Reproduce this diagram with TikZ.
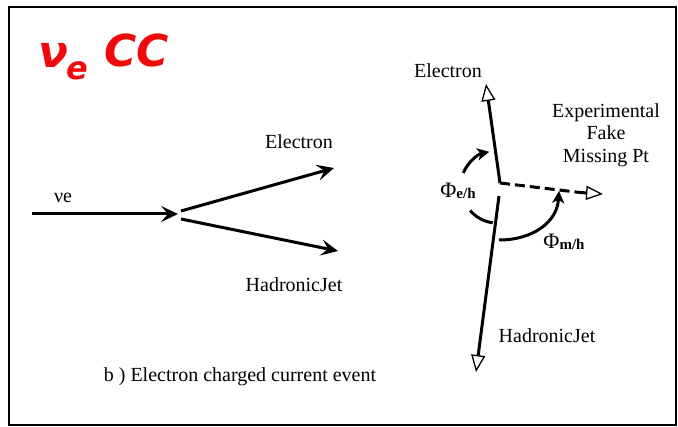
\documentclass[tikz,border=0pt]{standalone}
\usepackage{fontspec}
\setmainfont{Liberation Serif}
\newfontfamily\redfont{DejaVu Sans}
\usetikzlibrary{arrows.meta}
\definecolor{vred}{RGB}{240,10,10}
\begin{document}
\begin{tikzpicture}[x=1pt,y=-1pt,
  lbl/.style={inner sep=0pt, font=\fontsize{20}{23}\selectfont},
  captiontxt/.style={inner sep=0pt, font=\fontsize{20}{23}\selectfont},
  phi/.style={inner sep=0pt, font=\fontsize{22}{23}\selectfont},
  redtxt/.style={inner sep=0pt, text=vred, font=\redfont\bfseries\itshape\fontsize{44}{48}\selectfont},
  redsub/.style={inner sep=0pt, text=vred, font=\redfont\bfseries\itshape\fontsize{32}{36}\selectfont},
  bigline/.style={line width=3pt},
  fwd/.style={bigline, -{Stealth[length=17pt,width=16pt,inset=7pt]}},
  opentip/.style={bigline, -{Triangle[open,length=17pt,width=14pt,line width=1.3pt]}},
  dashline/.style={bigline, dash pattern=on 10pt off 5pt},
  anglearc/.style={line width=3pt},
  anglearrow/.style={line width=3pt, -{Stealth[length=12pt,width=12pt,inset=3pt]}}
]
\useasboundingbox (0,0) rectangle (678,427);
\draw[line width=2.2pt] (9,7) rectangle (676,425);

% title
\node[redtxt] (nu) at (53,55) {ν};
\node[redsub] (nusub) at (77,71) {e};
\node[redtxt, anchor=base west] (cc) at (104,67) {CC};

% left diagram
\coordinate (in) at (32,214);
\coordinate (v) at (178,214);
\coordinate (v1) at (181,211);
\coordinate (v2) at (181,219);
\coordinate (eout) at (334,168);
\coordinate (hout) at (338,251);
\draw[fwd] (in) -- (v);
\draw[fwd] (v1) -- (eout);
\draw[fwd] (v2) -- (hout);
\node[lbl] (lnu) at (63,198) {νe};
\node[lbl] (lel) at (299,142) {Electron};
\node[lbl] (lhj) at (294,285) {HadronicJet};
\node[captiontxt] (capt) at (240,377) {b ) Electron charged current event};

% right diagram
\coordinate (o) at (500,183);
\coordinate (etip) at (486,84);
\coordinate (htop) at (499,196);
\coordinate (htip) at (476,372);
\coordinate (mmid) at (580,192.5);
\coordinate (mtip) at (603,194);
\draw[opentip] (o) -- (etip);
\draw[opentip] (htop) -- (htip);
\draw[dashline] (o) -- (mmid);
\draw[opentip] (mmid) -- (mtip);

\node[lbl] (rel) at (448,71) {Electron};
\node[lbl] (rhj) at (547,336) {HadronicJet};
\node[lbl, align=center, font=\fontsize{20}{22.5}\selectfont] (fake) at (606,135) {Experimental\\Fake\\Missing Pt};

% angles
\coordinate (c) at (497,188);
\draw[anglearc] ([shift={(97:35)}]c) arc[start angle=97, end angle=140, radius=35];
\draw[anglearrow] ([shift={(204:37)}]c) arc[start angle=204, end angle=258, radius=37];
\node[phi] (pe) at (458,191) {Φ\raisebox{-1pt}{\fontsize{15}{15}\selectfont\bfseries e/h}};

\coordinate (m1) at (499,240);
\coordinate (m2) at (559,191);
\draw[anglearrow] (m1) .. controls (533,240) and (557,222) .. (m2);
\node[phi] (pm) at (564,242) {Φ\raisebox{-1pt}{\fontsize{15}{15}\selectfont\bfseries m/h}};
\end{tikzpicture}
\end{document}
